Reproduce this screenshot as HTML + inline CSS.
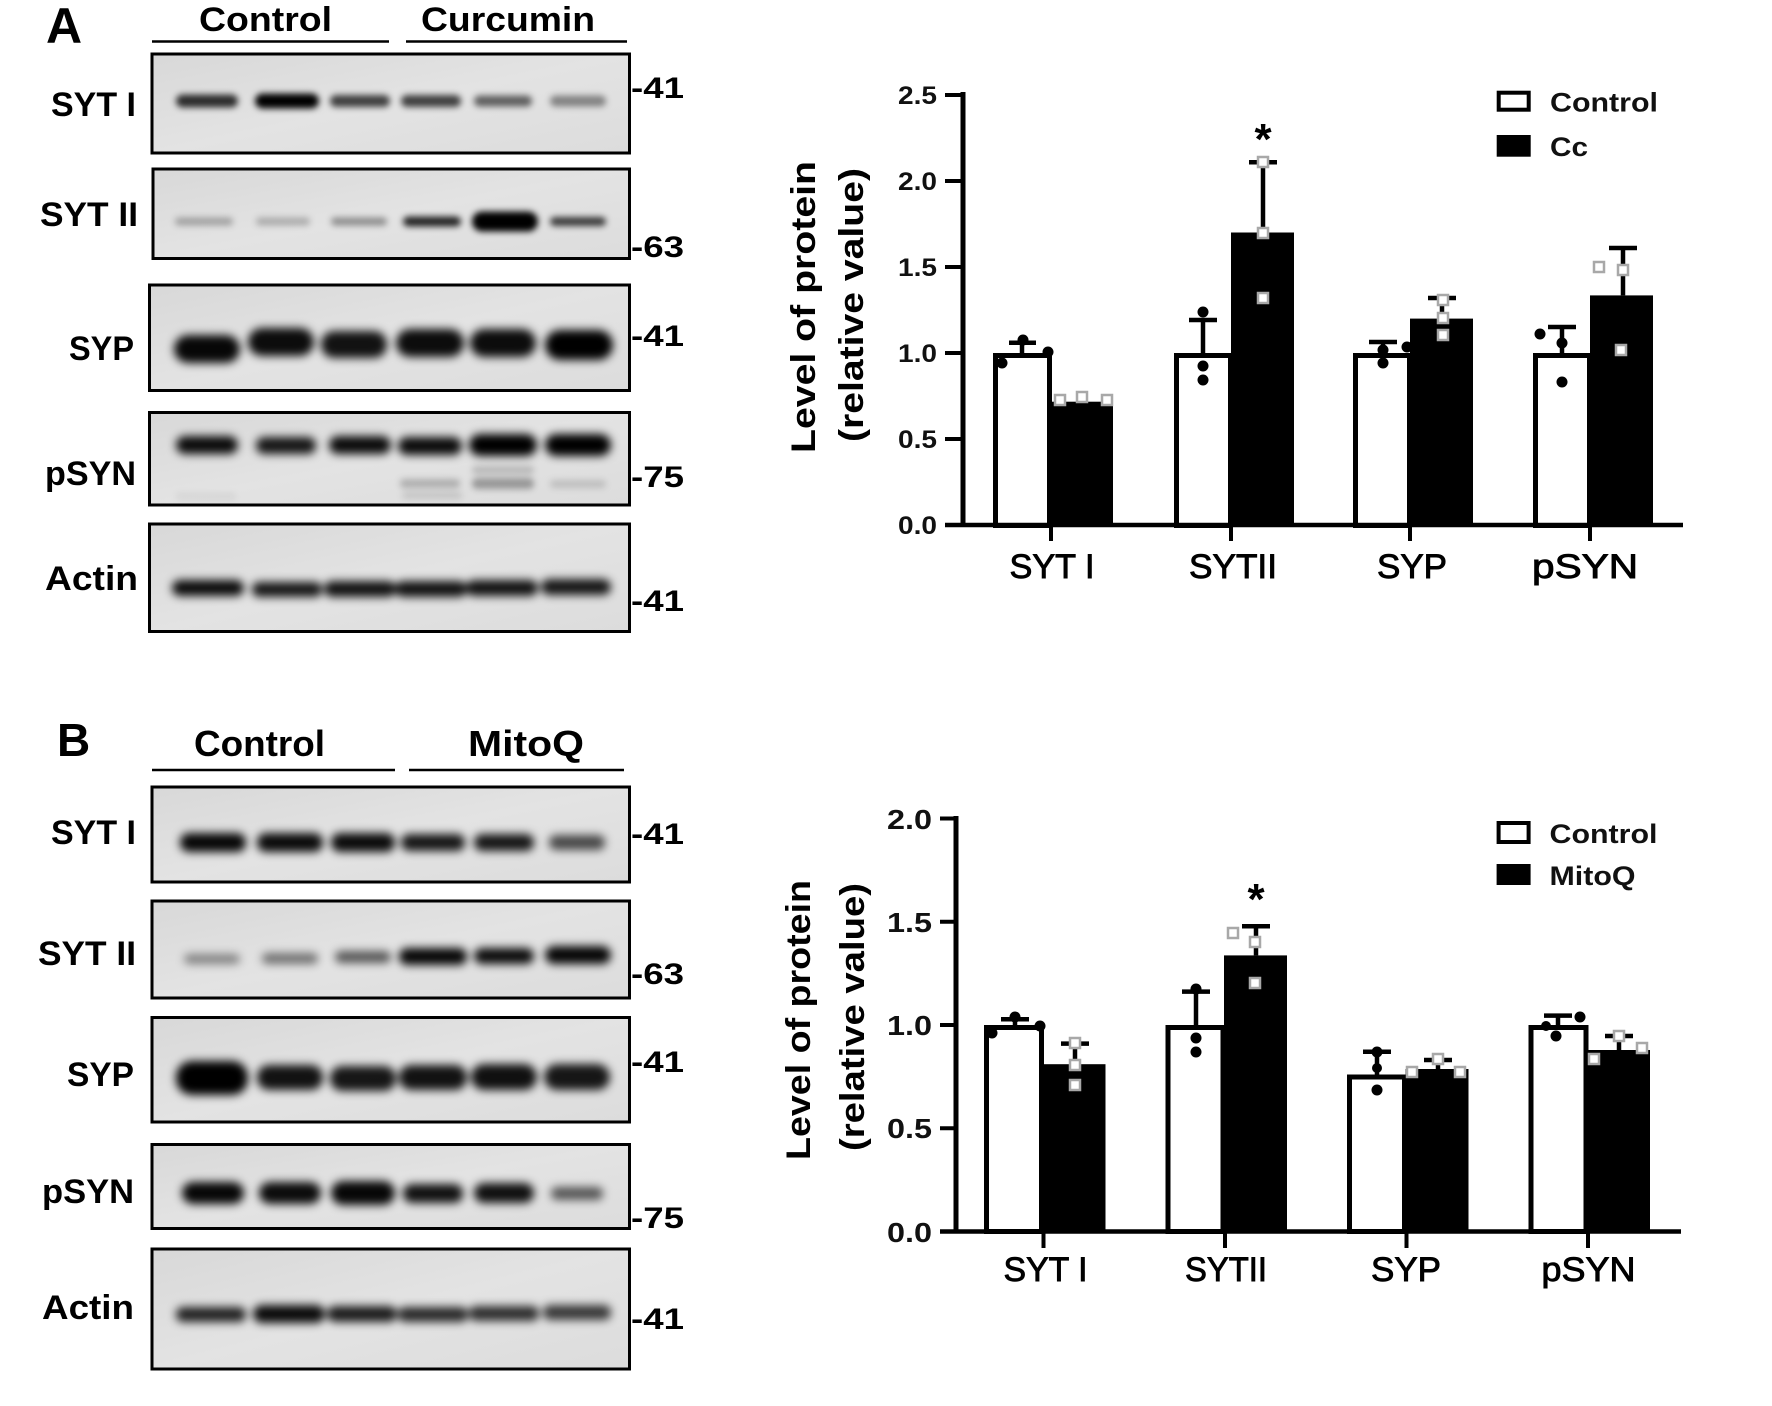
<!DOCTYPE html>
<html><head><meta charset="utf-8"><style>
html,body{margin:0;padding:0;background:#fff;}
svg{display:block;}
text{font-family:"Liberation Sans",Arial,sans-serif;}
</style></head><body>
<svg width="1772" height="1406" viewBox="0 0 1772 1406" xmlns="http://www.w3.org/2000/svg">
<defs>
<filter id="bl" x="-30%" y="-200%" width="160%" height="500%"><feGaussianBlur stdDeviation="3.2"/></filter>
<filter id="bl2" x="-30%" y="-200%" width="160%" height="500%"><feGaussianBlur stdDeviation="4.5"/></filter>
<linearGradient id="bg" x1="0" y1="0" x2="1" y2="1"><stop offset="0" stop-color="#d8d8d8"/><stop offset="0.5" stop-color="#e3e3e3"/><stop offset="1" stop-color="#dcdcdc"/></linearGradient>
</defs>
<rect width="1772" height="1406" fill="#fff"/>

<!-- ================= PANEL A BLOTS ================= -->
<text x="46" y="43" font-size="50" font-weight="bold">A</text>
<text x="199" y="31" font-size="34" font-weight="bold" textLength="133" lengthAdjust="spacingAndGlyphs">Control</text>
<text x="421" y="31" font-size="34" font-weight="bold" textLength="174" lengthAdjust="spacingAndGlyphs">Curcumin</text>
<line x1="152" y1="41.5" x2="389" y2="41.5" stroke="#000" stroke-width="2.5"/>
<line x1="406" y1="41.5" x2="627" y2="41.5" stroke="#000" stroke-width="2.5"/>

<g font-size="34" font-weight="bold" text-anchor="end">
<text x="136" y="116" textLength="85" lengthAdjust="spacingAndGlyphs">SYT I</text>
<text x="138" y="226" textLength="98" lengthAdjust="spacingAndGlyphs">SYT II</text>
<text x="134" y="360" textLength="65" lengthAdjust="spacingAndGlyphs">SYP</text>
<text x="136" y="485" textLength="91" lengthAdjust="spacingAndGlyphs">pSYN</text>
<text x="138" y="590" textLength="93" lengthAdjust="spacingAndGlyphs">Actin</text>
</g>
<g font-size="30" font-weight="bold">
<text x="631" y="98" textLength="53" lengthAdjust="spacingAndGlyphs">-41</text>
<text x="631" y="257" textLength="53" lengthAdjust="spacingAndGlyphs">-63</text>
<text x="631" y="346" textLength="53" lengthAdjust="spacingAndGlyphs">-41</text>
<text x="631" y="487" textLength="53" lengthAdjust="spacingAndGlyphs">-75</text>
<text x="631" y="611" textLength="53" lengthAdjust="spacingAndGlyphs">-41</text>
</g>

<!-- boxes A -->
<g stroke="#000" stroke-width="3" fill="url(#bg)">
<rect x="152" y="54" width="477.5" height="99"/>
<rect x="153" y="169" width="476.5" height="89.5"/>
<rect x="149.5" y="285" width="480" height="105.5"/>
<rect x="149.5" y="412.5" width="480" height="92.5"/>
<rect x="149.5" y="524" width="480" height="107.5"/>
</g>
<!-- bands A -->
<g filter="url(#bl)" fill="#000">
<!-- SYT I -->
<rect x="176" y="94.5" width="62" height="13" rx="6.5" opacity=".8"/>
<rect x="255" y="93.5" width="64" height="15" rx="7.5" opacity="1"/>
<rect x="330" y="95" width="60" height="12" rx="6" opacity=".72"/>
<rect x="401" y="95" width="60" height="12" rx="6" opacity=".72"/>
<rect x="474" y="95.5" width="58" height="11" rx="5.5" opacity=".58"/>
<rect x="550" y="95.5" width="56" height="11" rx="5.5" opacity=".42"/>
<!-- SYT II -->
<rect x="175" y="217.5" width="58" height="8" rx="4" opacity=".28"/>
<rect x="256" y="217.5" width="54" height="8" rx="4" opacity=".24"/>
<rect x="331" y="217.5" width="56" height="8" rx="4" opacity=".38"/>
<rect x="403" y="216.5" width="58" height="10" rx="5" opacity=".85"/>
<rect x="472" y="211.5" width="66" height="20" rx="10" opacity="1"/>
<rect x="550" y="217" width="56" height="9" rx="4.5" opacity=".75"/>
<!-- pSYN faint -->
<rect x="400" y="479" width="60" height="9" rx="4" opacity=".22"/>
<rect x="472" y="478" width="62" height="11" rx="5" opacity=".32"/>
<rect x="472" y="466" width="62" height="8" rx="4" opacity=".18"/>
<rect x="550" y="480" width="56" height="8" rx="4" opacity=".14"/>
<rect x="176" y="493" width="60" height="7" rx="3" opacity=".06"/>
<rect x="402" y="492" width="60" height="7" rx="3" opacity=".12"/>
</g>
<g filter="url(#bl2)" fill="#000">
<!-- SYP -->
<rect x="174" y="335" width="66" height="28" rx="14" opacity=".97"/>
<rect x="248" y="328" width="66" height="28" rx="14" opacity=".95"/>
<rect x="321" y="331" width="66" height="27" rx="13" opacity=".92"/>
<rect x="396" y="329" width="68" height="28" rx="14" opacity=".95"/>
<rect x="470" y="329" width="66" height="28" rx="14" opacity=".95"/>
<rect x="545" y="330" width="68" height="30" rx="15" opacity="1"/>
<!-- pSYN -->
<rect x="176" y="436" width="62" height="18" rx="9" opacity=".95"/>
<rect x="256" y="437" width="60" height="17" rx="8" opacity=".9"/>
<rect x="329" y="436" width="62" height="18" rx="9" opacity=".95"/>
<rect x="398" y="437" width="64" height="18" rx="9" opacity=".95"/>
<rect x="469" y="434" width="68" height="22" rx="11" opacity="1"/>
<rect x="545" y="434" width="66" height="22" rx="11" opacity="1"/>
<!-- Actin -->
<rect x="172" y="580" width="72" height="16" rx="8" opacity=".95"/>
<rect x="252" y="582" width="70" height="15" rx="7" opacity=".9"/>
<rect x="324" y="581" width="72" height="16" rx="8" opacity=".92"/>
<rect x="395" y="581" width="72" height="16" rx="8" opacity=".92"/>
<rect x="466" y="580" width="72" height="16" rx="8" opacity=".92"/>
<rect x="541" y="579" width="70" height="16" rx="8" opacity=".9"/>
</g>

<!-- ================= PANEL B BLOTS ================= -->
<text x="57" y="756" font-size="46" font-weight="bold">B</text>
<text x="194" y="756" font-size="36" font-weight="bold" textLength="131" lengthAdjust="spacingAndGlyphs">Control</text>
<text x="468" y="756" font-size="36" font-weight="bold" textLength="116" lengthAdjust="spacingAndGlyphs">MitoQ</text>
<line x1="152" y1="770" x2="395" y2="770" stroke="#000" stroke-width="2.5"/>
<line x1="409" y1="770" x2="624" y2="770" stroke="#000" stroke-width="2.5"/>

<g font-size="34" font-weight="bold" text-anchor="end">
<text x="136" y="844" textLength="85" lengthAdjust="spacingAndGlyphs">SYT I</text>
<text x="136" y="965" textLength="98" lengthAdjust="spacingAndGlyphs">SYT II</text>
<text x="134" y="1086" textLength="67" lengthAdjust="spacingAndGlyphs">SYP</text>
<text x="134" y="1203" textLength="92" lengthAdjust="spacingAndGlyphs">pSYN</text>
<text x="134" y="1319" textLength="92" lengthAdjust="spacingAndGlyphs">Actin</text>
</g>
<g font-size="30" font-weight="bold">
<text x="631" y="844" textLength="53" lengthAdjust="spacingAndGlyphs">-41</text>
<text x="631" y="984" textLength="53" lengthAdjust="spacingAndGlyphs">-63</text>
<text x="631" y="1072" textLength="53" lengthAdjust="spacingAndGlyphs">-41</text>
<text x="631" y="1228" textLength="53" lengthAdjust="spacingAndGlyphs">-75</text>
<text x="631" y="1329" textLength="53" lengthAdjust="spacingAndGlyphs">-41</text>
</g>
<g stroke="#000" stroke-width="3" fill="url(#bg)">
<rect x="152" y="787" width="477.5" height="95"/>
<rect x="152" y="901" width="477.5" height="97"/>
<rect x="152" y="1017.5" width="477.5" height="104.5"/>
<rect x="152" y="1144.5" width="477.5" height="84"/>
<rect x="152" y="1249" width="477.5" height="120"/>
</g>
<g filter="url(#bl2)" fill="#000">
<!-- SYT I -->
<rect x="180" y="833" width="66" height="19" rx="9" opacity=".97"/>
<rect x="257" y="833" width="66" height="19" rx="9" opacity=".95"/>
<rect x="331" y="833" width="64" height="19" rx="9" opacity=".95"/>
<rect x="401" y="834" width="64" height="17" rx="8" opacity=".9"/>
<rect x="474" y="834" width="60" height="17" rx="8" opacity=".9"/>
<rect x="549" y="835" width="56" height="15" rx="7" opacity=".68"/>
<!-- SYT II -->
<rect x="184" y="954" width="56" height="10" rx="5" opacity=".42"/>
<rect x="262" y="953" width="56" height="11" rx="5" opacity=".5"/>
<rect x="335" y="951" width="56" height="12" rx="6" opacity=".62"/>
<rect x="399" y="948" width="68" height="17" rx="8" opacity=".97"/>
<rect x="474" y="948" width="60" height="16" rx="8" opacity=".95"/>
<rect x="545" y="946" width="66" height="18" rx="9" opacity=".97"/>
<!-- SYP -->
<rect x="176" y="1061" width="72" height="34" rx="16" opacity="1"/>
<rect x="257" y="1065" width="66" height="25" rx="12" opacity=".92"/>
<rect x="330" y="1066" width="66" height="25" rx="12" opacity=".9"/>
<rect x="399" y="1065" width="68" height="25" rx="12" opacity=".92"/>
<rect x="471" y="1064" width="66" height="26" rx="13" opacity=".93"/>
<rect x="544" y="1064" width="66" height="26" rx="13" opacity=".9"/>
<!-- pSYN -->
<rect x="182" y="1182" width="62" height="22" rx="11" opacity=".97"/>
<rect x="259" y="1182" width="62" height="22" rx="11" opacity=".95"/>
<rect x="331" y="1181" width="64" height="24" rx="12" opacity=".97"/>
<rect x="403" y="1184" width="60" height="19" rx="9" opacity=".92"/>
<rect x="474" y="1183" width="60" height="20" rx="10" opacity=".93"/>
<rect x="551" y="1187" width="52" height="13" rx="6" opacity=".62"/>
<!-- Actin -->
<rect x="176" y="1307" width="70" height="15" rx="7" opacity=".85"/>
<rect x="253" y="1305" width="72" height="18" rx="9" opacity=".95"/>
<rect x="327" y="1306" width="70" height="16" rx="8" opacity=".88"/>
<rect x="398" y="1307" width="70" height="15" rx="7" opacity=".82"/>
<rect x="469" y="1306" width="70" height="15" rx="7" opacity=".8"/>
<rect x="543" y="1305" width="68" height="15" rx="7" opacity=".75"/>
</g>

<!-- ================= CHART A ================= -->
<!-- y label -->
<text transform="translate(815,307) rotate(-90)" text-anchor="middle" font-size="34" font-weight="bold" textLength="292" lengthAdjust="spacingAndGlyphs">Level of protein</text>
<text transform="translate(863,305) rotate(-90)" text-anchor="middle" font-size="34" font-weight="bold" textLength="274" lengthAdjust="spacingAndGlyphs">(relative value)</text>
<!-- tick labels -->
<g font-size="25" font-weight="bold" text-anchor="end" fill="#111">
<text x="937" y="104" textLength="39" lengthAdjust="spacingAndGlyphs">2.5</text>
<text x="937" y="190" textLength="39" lengthAdjust="spacingAndGlyphs">2.0</text>
<text x="937" y="276" textLength="39" lengthAdjust="spacingAndGlyphs">1.5</text>
<text x="937" y="362" textLength="39" lengthAdjust="spacingAndGlyphs">1.0</text>
<text x="937" y="448" textLength="39" lengthAdjust="spacingAndGlyphs">0.5</text>
<text x="937" y="534" textLength="39" lengthAdjust="spacingAndGlyphs">0.0</text>
</g>
<!-- bars -->
<g stroke="#000" stroke-width="5" fill="#fff">
<rect x="995.5" y="355.5" width="54" height="170"/>
<rect x="1176.5" y="355.5" width="54" height="170"/>
<rect x="1355.5" y="355.5" width="54" height="170"/>
<rect x="1535.5" y="355.5" width="54" height="170"/>
</g>
<g fill="#000">
<rect x="1050" y="401.7" width="63" height="123.3"/>
<rect x="1231" y="232.5" width="63" height="292.5"/>
<rect x="1410" y="318.6" width="63" height="206.4"/>
<rect x="1590" y="295.4" width="63" height="229.6"/>
</g>
<!-- error bars -->
<g stroke="#000" stroke-width="4.5">
<line x1="1022" y1="353" x2="1022" y2="342.7"/><line x1="1009" y1="342.7" x2="1036" y2="342.7"/>
<line x1="1203" y1="353" x2="1203" y2="320"/><line x1="1189" y1="320" x2="1217" y2="320"/>
<line x1="1263" y1="232.5" x2="1263" y2="162.3"/><line x1="1249" y1="162.3" x2="1277" y2="162.3"/>
<line x1="1383" y1="353" x2="1383" y2="342"/><line x1="1369" y1="342" x2="1397" y2="342"/>
<line x1="1442" y1="318.6" x2="1442" y2="298"/><line x1="1428" y1="298" x2="1456" y2="298"/>
<line x1="1562" y1="353" x2="1562" y2="327"/><line x1="1548" y1="327" x2="1576" y2="327"/>
<line x1="1623" y1="295.4" x2="1623" y2="248"/><line x1="1609" y1="248" x2="1637" y2="248"/>
</g>
<!-- points control -->
<g fill="#000">
<circle cx="1002" cy="363" r="5.5"/><circle cx="1023" cy="340" r="5.5"/><circle cx="1048" cy="352" r="5.5"/>
<circle cx="1203" cy="312" r="5.5"/><circle cx="1203" cy="366" r="5.5"/><circle cx="1203" cy="380" r="5.5"/>
<circle cx="1383" cy="363" r="5.5"/><circle cx="1383" cy="350" r="5.5"/><circle cx="1407" cy="347" r="5.5"/>
<circle cx="1540" cy="334" r="5.5"/><circle cx="1562" cy="343" r="5.5"/><circle cx="1562" cy="382" r="5.5"/>
</g>
<!-- points treatment -->
<g fill="#fff" stroke="#a8a8a8" stroke-width="2.5">
<rect x="1055" y="395" width="10" height="10"/><rect x="1077" y="392" width="10" height="10"/><rect x="1102" y="395" width="10" height="10"/>
<rect x="1258" y="157" width="10" height="10"/><rect x="1258" y="228" width="10" height="10"/><rect x="1258" y="293" width="10" height="10"/>
<rect x="1438" y="295" width="10" height="10"/><rect x="1438" y="313" width="10" height="10"/><rect x="1438" y="330" width="10" height="10"/>
<rect x="1594" y="262" width="10" height="10"/><rect x="1618" y="265" width="10" height="10"/><rect x="1616" y="345" width="10" height="10"/>
</g>
<!-- axes -->
<g stroke="#000">
<line x1="963" y1="92" x2="963" y2="527" stroke-width="5"/>
<line x1="945" y1="525" x2="1683" y2="525" stroke-width="4.5"/>
<g stroke-width="4">
<line x1="945" y1="95" x2="963" y2="95"/><line x1="945" y1="181" x2="963" y2="181"/><line x1="945" y1="267" x2="963" y2="267"/>
<line x1="945" y1="353" x2="963" y2="353"/><line x1="945" y1="439" x2="963" y2="439"/>
<line x1="1051" y1="525" x2="1051" y2="541"/><line x1="1231" y1="525" x2="1231" y2="541"/>
<line x1="1410" y1="525" x2="1410" y2="541"/><line x1="1590" y1="525" x2="1590" y2="541"/>
</g>
</g>
<!-- x labels -->
<g font-size="34" text-anchor="middle" stroke="#000" stroke-width="0.9">
<text x="1052" y="578" textLength="85" lengthAdjust="spacingAndGlyphs">SYT I</text>
<text x="1233" y="578" textLength="88" lengthAdjust="spacingAndGlyphs">SYTII</text>
<text x="1412" y="578" textLength="70" lengthAdjust="spacingAndGlyphs">SYP</text>
<text x="1585" y="578" textLength="106" lengthAdjust="spacingAndGlyphs">pSYN</text>
</g>
<text x="1263" y="154" font-size="44" font-weight="bold" text-anchor="middle">*</text>
<!-- legend A -->
<rect x="1498.7" y="92.7" width="30" height="17" fill="#fff" stroke="#000" stroke-width="4"/>
<rect x="1496.7" y="135" width="34" height="21.7" fill="#000"/>
<g font-size="27" font-weight="bold" fill="#111">
<text x="1550" y="111.5" textLength="108" lengthAdjust="spacingAndGlyphs">Control</text>
<text x="1550" y="156" textLength="38" lengthAdjust="spacingAndGlyphs">Cc</text>
</g>

<!-- ================= CHART B ================= -->
<text transform="translate(810,1020) rotate(-90)" text-anchor="middle" font-size="34" font-weight="bold" textLength="280" lengthAdjust="spacingAndGlyphs">Level of protein</text>
<text transform="translate(864,1017) rotate(-90)" text-anchor="middle" font-size="34" font-weight="bold" textLength="268" lengthAdjust="spacingAndGlyphs">(relative value)</text>
<g font-size="28" font-weight="bold" text-anchor="end" fill="#111">
<text x="932" y="829" textLength="45" lengthAdjust="spacingAndGlyphs">2.0</text>
<text x="932" y="932" textLength="45" lengthAdjust="spacingAndGlyphs">1.5</text>
<text x="932" y="1035" textLength="45" lengthAdjust="spacingAndGlyphs">1.0</text>
<text x="932" y="1138" textLength="45" lengthAdjust="spacingAndGlyphs">0.5</text>
<text x="932" y="1242" textLength="45" lengthAdjust="spacingAndGlyphs">0.0</text>
</g>
<g stroke="#000" stroke-width="5" fill="#fff">
<rect x="986.5" y="1027.5" width="55" height="204"/>
<rect x="1168" y="1027.5" width="55" height="204"/>
<rect x="1349.5" y="1077" width="55" height="154.5"/>
<rect x="1531" y="1027.5" width="55" height="204"/>
</g>
<g fill="#000">
<rect x="1042.5" y="1064.2" width="63" height="167.3"/>
<rect x="1224" y="955.4" width="63" height="276.1"/>
<rect x="1405.5" y="1069" width="63" height="162.5"/>
<rect x="1587" y="1050" width="63" height="181.5"/>
</g>
<g stroke="#000" stroke-width="4.5">
<line x1="1015" y1="1025" x2="1015" y2="1019.3"/><line x1="1001" y1="1019.3" x2="1029" y2="1019.3"/>
<line x1="1075" y1="1064.2" x2="1075" y2="1043.6"/><line x1="1061" y1="1043.6" x2="1089" y2="1043.6"/>
<line x1="1196" y1="1025" x2="1196" y2="991.6"/><line x1="1182" y1="991.6" x2="1210" y2="991.6"/>
<line x1="1256" y1="955.4" x2="1256" y2="926.2"/><line x1="1242" y1="926.2" x2="1270" y2="926.2"/>
<line x1="1377" y1="1075" x2="1377" y2="1051.8"/><line x1="1363" y1="1051.8" x2="1391" y2="1051.8"/>
<line x1="1438" y1="1069" x2="1438" y2="1060"/><line x1="1424" y1="1060" x2="1452" y2="1060"/>
<line x1="1558" y1="1025" x2="1558" y2="1015.6"/><line x1="1544" y1="1015.6" x2="1572" y2="1015.6"/>
<line x1="1619" y1="1050" x2="1619" y2="1036"/><line x1="1605" y1="1036" x2="1633" y2="1036"/>
</g>
<g fill="#000">
<circle cx="992" cy="1033" r="5.5"/><circle cx="1015" cy="1017" r="5.5"/><circle cx="1040" cy="1026" r="5.5"/>
<circle cx="1196" cy="989" r="5.5"/><circle cx="1196" cy="1038" r="5.5"/><circle cx="1196" cy="1052" r="5.5"/>
<circle cx="1377" cy="1052" r="5.5"/><circle cx="1377" cy="1090" r="5.5"/><circle cx="1377" cy="1068" r="5"/>
<circle cx="1556" cy="1036" r="5.5"/><circle cx="1580" cy="1017" r="5.5"/><circle cx="1546" cy="1026" r="5"/>
</g>
<g fill="#fff" stroke="#a8a8a8" stroke-width="2.5">
<rect x="1070" y="1038" width="10" height="10"/><rect x="1070" y="1060" width="10" height="10"/><rect x="1070" y="1080" width="10" height="10"/>
<rect x="1228" y="928" width="10" height="10"/><rect x="1250" y="937" width="10" height="10"/><rect x="1250" y="978" width="10" height="10"/>
<rect x="1407" y="1067" width="10" height="10"/><rect x="1433" y="1054" width="10" height="10"/><rect x="1455" y="1067" width="10" height="10"/>
<rect x="1589" y="1054" width="10" height="10"/><rect x="1614" y="1031" width="10" height="10"/><rect x="1637" y="1043" width="10" height="10"/>
</g>
<g stroke="#000">
<line x1="956" y1="816" x2="956" y2="1233.5" stroke-width="5"/>
<line x1="940" y1="1231.5" x2="1681" y2="1231.5" stroke-width="4.5"/>
<g stroke-width="4">
<line x1="940" y1="818.5" x2="956" y2="818.5"/><line x1="940" y1="921.75" x2="956" y2="921.75"/>
<line x1="940" y1="1025" x2="956" y2="1025"/><line x1="940" y1="1128.25" x2="956" y2="1128.25"/>
<line x1="1043.5" y1="1231.5" x2="1043.5" y2="1248"/><line x1="1225" y1="1231.5" x2="1225" y2="1248"/>
<line x1="1406.5" y1="1231.5" x2="1406.5" y2="1248"/><line x1="1588" y1="1231.5" x2="1588" y2="1248"/>
</g>
</g>
<g font-size="34" text-anchor="middle" stroke="#000" stroke-width="0.9">
<text x="1045.5" y="1281" textLength="84" lengthAdjust="spacingAndGlyphs">SYT I</text>
<text x="1226" y="1281" textLength="82" lengthAdjust="spacingAndGlyphs">SYTII</text>
<text x="1406" y="1281" textLength="70" lengthAdjust="spacingAndGlyphs">SYP</text>
<text x="1588.5" y="1281" textLength="94" lengthAdjust="spacingAndGlyphs">pSYN</text>
</g>
<text x="1256" y="914" font-size="44" font-weight="bold" text-anchor="middle">*</text>
<rect x="1498.6" y="823" width="30" height="19" fill="#fff" stroke="#000" stroke-width="4"/>
<rect x="1496.6" y="864" width="34" height="21" fill="#000"/>
<g font-size="27" font-weight="bold" fill="#111">
<text x="1549.5" y="843" textLength="108" lengthAdjust="spacingAndGlyphs">Control</text>
<text x="1549.5" y="885" textLength="86" lengthAdjust="spacingAndGlyphs">MitoQ</text>
</g>
</svg>
</body></html>
